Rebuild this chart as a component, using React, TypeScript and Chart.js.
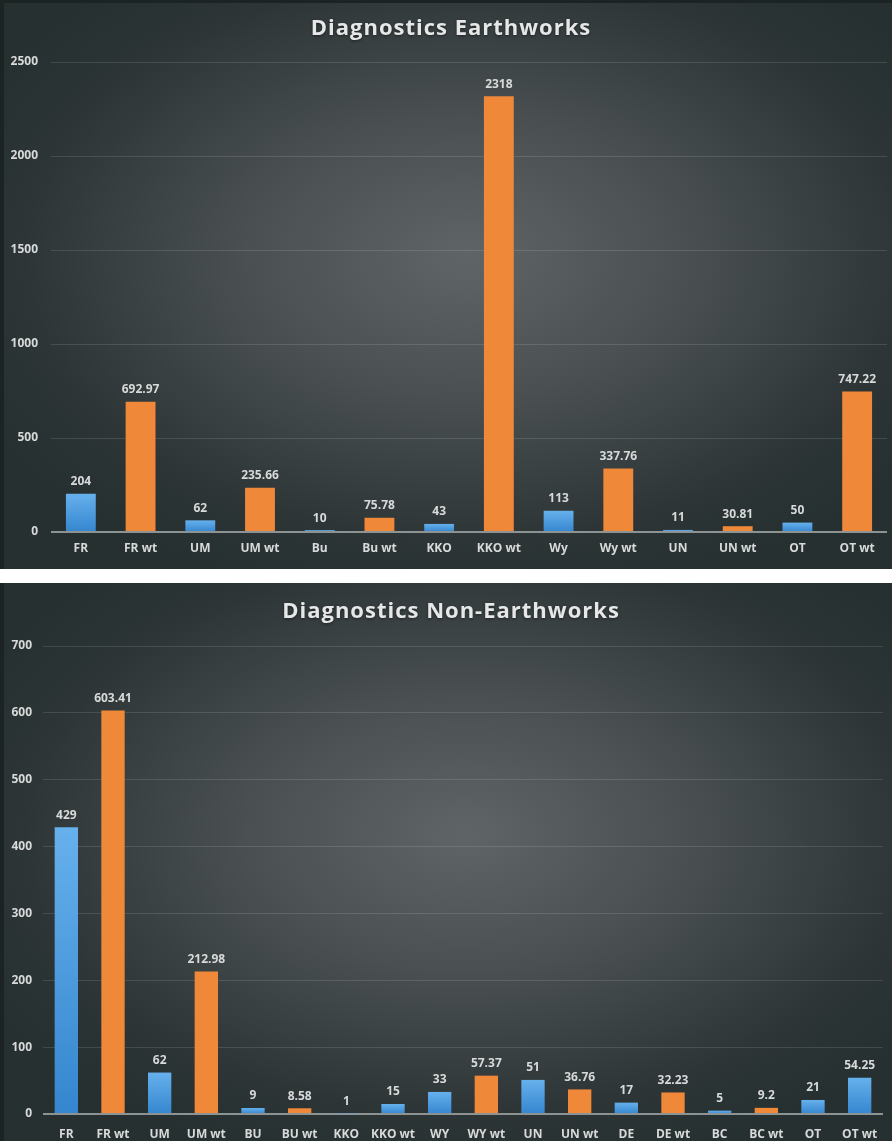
import React, { useEffect, useRef } from "react";
import { Chart, registerables } from "chart.js";

Chart.register(...registerables);

// ---------- data ----------
const topTitle = "Diagnostics Earthworks";
const topCategories = ["FR", "FR wt", "UM", "UM wt", "Bu", "Bu wt", "KKO", "KKO wt", "Wy", "Wy wt", "UN", "UN wt", "OT", "OT wt"];
const topValues = [204, 692.97, 62, 235.66, 10, 75.78, 43, 2318, 113, 337.76, 11, 30.81, 50, 747.22];
const topKinds = ["b", "o", "b", "o", "b", "o", "b", "o", "b", "o", "b", "o", "b", "o"];
const topYMax = 2500;
const topYStep = 500;

const bottomTitle = "Diagnostics Non-Earthworks";
const bottomCategories = ["FR", "FR wt", "UM", "UM wt", "BU", "BU wt", "KKO", "KKO wt", "WY", "WY wt", "UN", "UN wt", "DE", "DE wt", "BC", "BC wt", "OT", "OT wt"];
const bottomValues = [429, 603.41, 62, 212.98, 9, 8.58, 1, 15, 33, 57.37, 51, 36.76, 17, 32.23, 5, 9.2, 21, 54.25];
const bottomKinds = ["b", "o", "b", "o", "b", "o", "b", "b", "b", "o", "b", "o", "b", "o", "b", "o", "b", "b"];
const bottomYMax = 700;
const bottomYStep = 100;

// ---------- styles ----------
const BLUE_TOP = "#66b0ec";
const BLUE_BOTTOM = "#3586cf";
const ORANGE = "#f0883a";
const TEXT = "#d8d9d9";
const FONT = "'Open Sans', 'Noto Sans', sans-serif";

const valueLabels = {
  id: "valueLabels",
  afterDatasetsDraw(chart: any) {
    const ctx = chart.ctx;
    const meta = chart.getDatasetMeta(0);
    const data = chart.data.datasets[0].data;
    ctx.save();
    ctx.font = `bold 12px ${FONT}`;
    ctx.fillStyle = TEXT;
    ctx.textAlign = "center";
    ctx.textBaseline = "bottom";
    meta.data.forEach((bar: any, i: number) => {
      ctx.fillText(String(data[i]), bar.x, bar.y - 6);
    });
    ctx.restore();
  },
};

const spacedTitle = {
  id: "spacedTitle",
  afterDraw(chart: any, _args: any, opts: any) {
    const ctx = chart.ctx;
    ctx.save();
    ctx.font = `bold 22px ${FONT}`;
    ctx.fillStyle = "#e6e7e7";
    (ctx as any).letterSpacing = "1px";
    ctx.textAlign = "center";
    ctx.textBaseline = "middle";
    ctx.shadowColor = "rgba(0,0,0,0.45)";
    ctx.shadowBlur = 3;
    ctx.shadowOffsetY = 1;
    ctx.fillText(opts.text, chart.width / 2 + 3, opts.y);
    ctx.restore();
  },
};

type Cfg = {
  title: string;
  categories: string[];
  values: number[];
  kinds: string[];
  yMax: number;
  yStep: number;
  height: number;
  yWidth: number;
  yPad: number;
  xHeight: number;
  xPad: number;
  rightPad: number;
  plotTop: number;
  titleY: number;
};

function barColor(c: any, kinds: string[]) {
  if (kinds[c.dataIndex] === "o") return ORANGE;
  const chart = c.chart;
  const ys = chart.scales && chart.scales.y;
  if (!ys || !chart.chartArea || typeof c.raw !== "number") return BLUE_TOP;
  const top = ys.getPixelForValue(c.raw);
  const base = ys.getPixelForValue(0);
  if (!isFinite(top) || !isFinite(base) || base - top < 1) return BLUE_TOP;
  const g = chart.ctx.createLinearGradient(0, top, 0, base);
  g.addColorStop(0, BLUE_TOP);
  g.addColorStop(1, BLUE_BOTTOM);
  return g;
}

function BarPanel({ cfg }: { cfg: Cfg }) {
  const ref = useRef<HTMLCanvasElement | null>(null);
  useEffect(() => {
    if (!ref.current) return;
    const chart = new Chart(ref.current, {
      type: "bar",
      data: {
        labels: cfg.categories,
        datasets: [
          {
            data: cfg.values,
            backgroundColor: (c: any) => barColor(c, cfg.kinds),
            barPercentage: 0.5,
            categoryPercentage: 1,
          },
        ],
      },
      options: {
        animation: false,
        responsive: false,
        maintainAspectRatio: false,
        layout: { padding: { left: 0, right: cfg.rightPad, top: cfg.plotTop, bottom: 0 } },
        plugins: {
          legend: { display: false },
          tooltip: { enabled: false },
          title: { display: false },
          spacedTitle: { text: cfg.title, y: cfg.titleY },
        } as any,
        scales: {
          x: {
            grid: { display: false, drawTicks: false },
            border: { display: false },
            ticks: {
              color: TEXT,
              font: { family: FONT, size: 12, weight: "bold" },
              padding: cfg.xPad,
              autoSkip: false,
              maxRotation: 0,
              minRotation: 0,
            },
            afterFit: (s: any) => {
              s.height = cfg.xHeight;
            },
          },
          y: {
            min: 0,
            max: cfg.yMax,
            border: { display: false },
            grid: {
              drawTicks: false,
              color: (c: any) => (c.tick && c.tick.value === 0 ? "#8d9293" : "rgba(255,255,255,0.12)"),
              lineWidth: (c: any) => (c.tick && c.tick.value === 0 ? 2 : 1),
            },
            ticks: {
              stepSize: cfg.yStep,
              color: TEXT,
              font: { family: FONT, size: 12, weight: "bold" },
              padding: cfg.yPad,
              callback: (v: any) => String(v),
            },
            afterFit: (s: any) => {
              s.width = cfg.yWidth;
            },
          },
        },
      },
      plugins: [valueLabels, spacedTitle],
    });
    return () => chart.destroy();
  }, [cfg]);
  return <canvas ref={ref} width={888} height={cfg.height} style={{ display: "block", width: 888, height: cfg.height }} />;
}

const topCfg: Cfg = {
  title: topTitle,
  categories: topCategories,
  values: topValues,
  kinds: topKinds,
  yMax: topYMax,
  yStep: topYStep,
  height: 566,
  yWidth: 47,
  yPad: 13,
  xHeight: 37,
  xPad: 9,
  rightPad: 5,
  plotTop: 59,
  titleY: 26,
};

const bottomCfg: Cfg = {
  title: bottomTitle,
  categories: bottomCategories,
  values: bottomValues,
  kinds: bottomKinds,
  yMax: bottomYMax,
  yStep: bottomYStep,
  height: 558,
  yWidth: 39,
  yPad: 11,
  xHeight: 27,
  xPad: 13,
  rightPad: 9,
  plotTop: 63,
  titleY: 29,
};

const panelBg =
  "radial-gradient(ellipse 62% 62% at 52% 45%, #5f6466 0%, #4a5052 40%, #2d3536 80%, #263031 100%)";

export default function App() {
  return (
    <div style={{ position: "absolute", left: 0, top: 0, width: 892, height: 1141, background: "#ffffff", overflow: "hidden" }}>
      <div style={{ position: "absolute", left: 0, top: 0, width: 892, height: 569, background: "#1c2323" }}>
        <div style={{ position: "absolute", left: 4, top: 3, width: 888, height: 566, background: panelBg }}>
          <BarPanel cfg={topCfg} />
        </div>
      </div>
      <div style={{ position: "absolute", left: 0, top: 583, width: 892, height: 558, background: "#1c2323" }}>
        <div style={{ position: "absolute", left: 4, top: 0, width: 888, height: 558, background: panelBg }}>
          <BarPanel cfg={bottomCfg} />
        </div>
      </div>
    </div>
  );
}
